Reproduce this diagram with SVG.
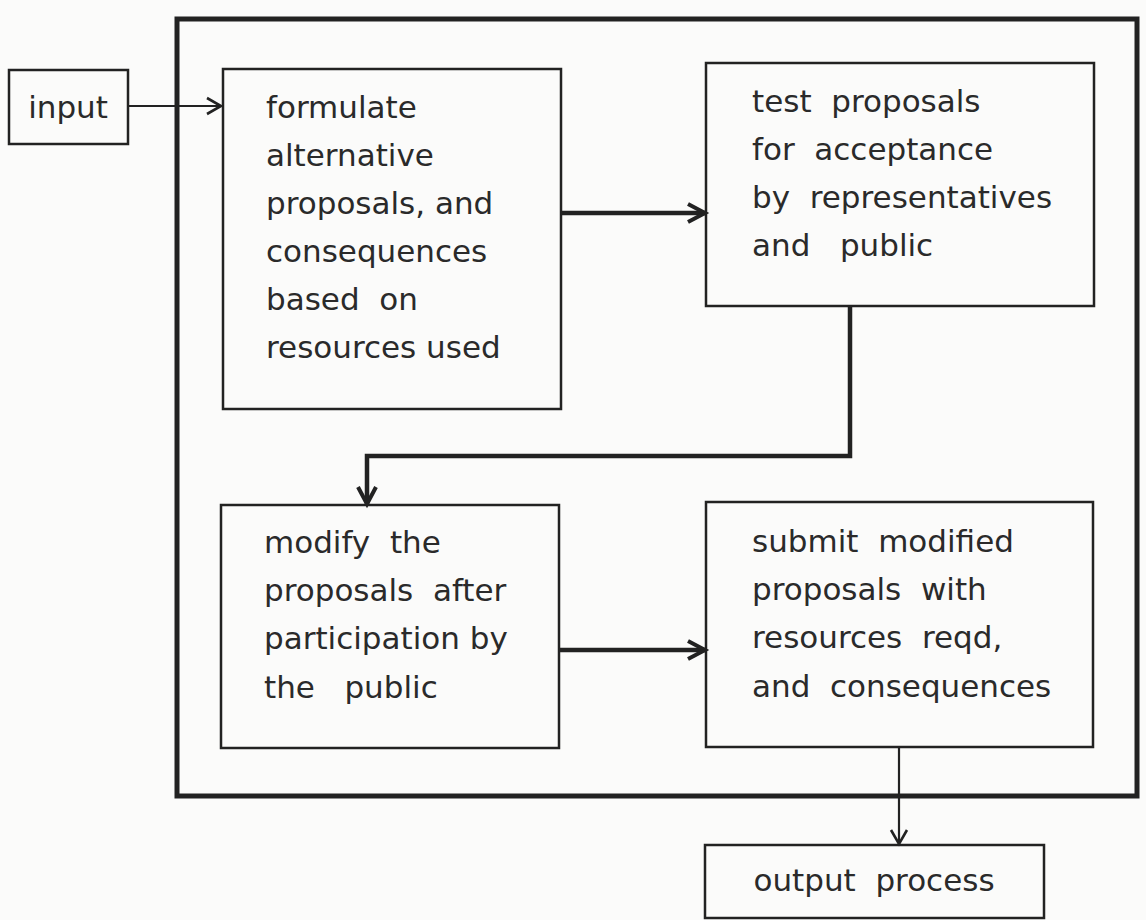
<svg xmlns="http://www.w3.org/2000/svg" width="1146" height="920" viewBox="0 0 1146 920">
  <style>
    .frame { fill: none; stroke: #222; stroke-width: 5; }
    .box { fill: none; stroke: #222; stroke-width: 2.5; }
    .label { font-family: "DejaVu Sans", "Liberation Sans", sans-serif; font-size: 31px; fill: #2a2a2a; }
    .thin { fill: none; stroke: #222; stroke-width: 2.2; }
    .thick { fill: none; stroke: #222; stroke-width: 4.5; }
  </style>
  <defs>
    <marker id="openThin" markerUnits="userSpaceOnUse" markerWidth="24" markerHeight="24" refX="16" refY="10" orient="auto">
      <path d="M2,2 L16,10 L2,18" fill="none" stroke="#222" stroke-width="2.6" stroke-linejoin="miter"/>
    </marker>
    <marker id="openThick" markerUnits="userSpaceOnUse" markerWidth="28" markerHeight="28" refX="19" refY="12" orient="auto">
      <path d="M2,3 L19,12 L2,21" fill="none" stroke="#222" stroke-width="4" stroke-linejoin="miter"/>
    </marker>
  </defs>

  <rect width="1146" height="920" fill="#fbfbfa"/>

  <!-- enclosing process boundary -->
  <rect id="boundary" class="frame" x="177" y="19" width="960" height="777"/>

  <g id="input">
    <rect class="box" x="9" y="70" width="119" height="74"/>
    <text class="label" x="68" y="118" text-anchor="middle">input</text>
  </g>

  <g id="formulate">
    <rect class="box" x="223" y="69" width="338" height="340"/>
    <text class="label" xml:space="preserve" x="266" y="118">formulate</text>
    <text class="label" xml:space="preserve" x="266" y="166">alternative</text>
    <text class="label" xml:space="preserve" x="266" y="214">proposals, and</text>
    <text class="label" xml:space="preserve" x="266" y="262">consequences</text>
    <text class="label" xml:space="preserve" x="266" y="310">based  on</text>
    <text class="label" xml:space="preserve" x="266" y="358">resources used</text>
  </g>

  <g id="test">
    <rect class="box" x="706" y="63" width="388" height="243"/>
    <text class="label" xml:space="preserve" x="752" y="112">test  proposals</text>
    <text class="label" xml:space="preserve" x="752" y="160">for  acceptance</text>
    <text class="label" xml:space="preserve" x="752" y="208">by  representatives</text>
    <text class="label" xml:space="preserve" x="752" y="256">and   public</text>
  </g>

  <g id="modify">
    <rect class="box" x="221" y="505" width="338" height="243"/>
    <text class="label" xml:space="preserve" x="264" y="553">modify  the</text>
    <text class="label" xml:space="preserve" x="264" y="601">proposals  after</text>
    <text class="label" xml:space="preserve" x="264" y="649">participation by</text>
    <text class="label" xml:space="preserve" x="264" y="698">the   public</text>
  </g>

  <g id="submit">
    <rect class="box" x="706" y="502" width="387" height="245"/>
    <text class="label" xml:space="preserve" x="752" y="552">submit  modified</text>
    <text class="label" xml:space="preserve" x="752" y="600">proposals  with</text>
    <text class="label" xml:space="preserve" x="752" y="648">resources  reqd,</text>
    <text class="label" xml:space="preserve" x="752" y="697">and  consequences</text>
  </g>

  <g id="output">
    <rect class="box" x="705" y="845" width="339" height="73"/>
    <text class="label" xml:space="preserve" x="874" y="891" text-anchor="middle">output  process</text>
  </g>

  <g id="connectors">
    <path class="thin" d="M128,106 H221" marker-end="url(#openThin)"/>
    <path class="thick" d="M561,213 H705" marker-end="url(#openThick)"/>
    <path class="thick" d="M850,306 V456 H367 V504" marker-end="url(#openThick)"/>
    <path class="thick" d="M559,650 H705" marker-end="url(#openThick)"/>
    <path class="thin" d="M899,747 V844" marker-end="url(#openThin)"/>
  </g>
</svg>
